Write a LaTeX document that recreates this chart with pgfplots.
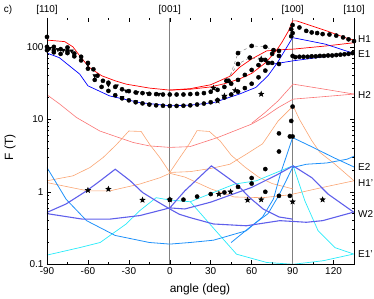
\documentclass[border=0pt]{standalone}
\usepackage{fontspec}
\setmainfont{Liberation Sans}
\usepackage{pgfplots}
\pgfplotsset{compat=1.18}
\usetikzlibrary{plotmarks}
\definecolor{cH1}{RGB}{255,0,0}
\definecolor{cE1}{RGB}{0,0,255}
\definecolor{cH2}{RGB}{250,115,115}
\definecolor{cOr}{RGB}{250,165,115}
\definecolor{cW2}{RGB}{95,95,235}
\definecolor{cE2}{RGB}{30,145,250}
\definecolor{cEp}{RGB}{40,235,250}
\pgfdeclareplotmark{fstar}{%
 \pgfpathmoveto{\pgfpointpolar{90}{\pgfplotmarksize}}%
 \pgfpathlineto{\pgfpointpolar{126}{0.42\pgfplotmarksize}}%
 \pgfpathlineto{\pgfpointpolar{162}{\pgfplotmarksize}}%
 \pgfpathlineto{\pgfpointpolar{198}{0.42\pgfplotmarksize}}%
 \pgfpathlineto{\pgfpointpolar{234}{\pgfplotmarksize}}%
 \pgfpathlineto{\pgfpointpolar{270}{0.42\pgfplotmarksize}}%
 \pgfpathlineto{\pgfpointpolar{306}{\pgfplotmarksize}}%
 \pgfpathlineto{\pgfpointpolar{342}{0.42\pgfplotmarksize}}%
 \pgfpathlineto{\pgfpointpolar{18}{\pgfplotmarksize}}%
 \pgfpathlineto{\pgfpointpolar{54}{0.42\pgfplotmarksize}}%
 \pgfpathclose\pgfusepathqfillstroke}
\begin{document}
\begin{tikzpicture}[x=1bp,y=1bp]
\path[use as bounding box] (-47,-34.7) rectangle (327,264.3);
\begin{axis}[
 scale only axis, width=307bp, height=246.3bp,
 at={(0,0)}, anchor=south west,
 xmin=-90, xmax=135, ymode=log, ymin=0.1, ymax=250,
 clip mode=individual,
 xtick={-90,-60,...,120}, xticklabels={-90,-60,-30,0,30,60,90,120},
 minor xtick={-75,-45,...,135},
 ytick={0.1,1,10,100}, yticklabels={0.1,1,10,100},
 tick align=inside,
 axis line style={draw=none},
 tick style={black, line width=0.5pt},
 major tick length=4bp, minor tick length=2.5bp,
 ticklabel style={font=\fontsize{10}{12}\selectfont},
 /pgf/number format/assume math mode=true,
]
\draw[gray, line width=0.7pt] (axis cs:0,0.1) -- (axis cs:0,250);
\draw[gray, line width=0.7pt] (axis cs:90,0.1) -- (axis cs:90,250);
% H1 red
\addplot[cH1, line width=0.7pt] coordinates {(-90,124)(-77,118)(-71,100)(-65,71)(-59,52)(-50,40)(-40,34)(-32,30.6)(-15,27)(0,25.3)(15,26)(30,28)(40,31)(51,36)(60,43)(70,60)(78,88)(82,114)(87,166)(90,228)(93,228)(115,166)(129.5,132)(135,124)};
\addplot[cH1, line width=0.7pt] coordinates {(0,25.3)(15,26.5)(30,30)(45,40)(51,52)(60,68)(71,88)(80,91)(90.4,93)(114.8,103)(135,114)};
% E1 blue
\addplot[cE1, line width=0.7pt] coordinates {(-90,82)(-81,71)(-66,42)(-60,29)(-44,21)(-22,17)(0,15.4)(15,15.7)(32,17)(51,22.3)(63,27.5)(72,40)(79,61)(90,134)(114,109)(135,81)};
\addplot[cE1, line width=0.7pt] coordinates {(76,58)(90,64)(135,83)};
% H2
\addplot[cH2, line width=0.6pt] coordinates {(-90,21.8)(-80.6,16.2)(-68.4,10.6)(-51.3,6.9)(-27,4.8)(-15,4.3)(0,4.1)(14.7,4.2)(35,5.6)(60,8.6)(70,11)(79.4,14.5)(90.4,19)(112,20.5)(135,22.3)};
\addplot[cH2, line width=0.6pt] coordinates {(60,8.8)(70,12.5)(79.4,18)(90.4,30.6)(113.6,26)(135,22.3)};
% orange
\addplot[cOr, line width=0.6pt] coordinates {(-90,1.42)(-71,1.66)(-58.6,2.16)(-48.9,2.97)(-39,4.5)(-30,6.9)(-21,6.8)(-14.7,4.5)(-7.3,2.97)(0,1.85)};
\addplot[cOr, line width=0.6pt] coordinates {(0,1.85)(7,2.9)(14,4.5)(20,7.0)(29,6.8)(37,5.0)(45,3.2)(55,2.2)(65,1.6)(75,1.3)(90,1.1)};
\addplot[cOr, line width=0.6pt] coordinates {(0,1.85)(15,1.9)(30,2.1)(44,2.4)(56,3.3)(68,4.6)(79.4,9.5)(90.4,15.3)(95,10)(104,5.1)(110,3.5)(120,2.5)(135,1.42)};
\addplot[cOr, line width=0.6pt] coordinates {(-90,1.34)(-60,1.03)(-44,1.03)(-22,1.28)(-7,1.57)(0,1.8)(11,1.6)(30,1.1)(47,0.85)(68,0.83)(88,0.91)(112,1.15)(135,1.42)};
% E1'
\addplot[cEp, line width=0.7pt] coordinates {(-90,0.134)(-66,0.17)(-51,0.2)(-32,0.36)(-22,0.55)(-10,0.83)(0,0.77)(15,0.73)};
\addplot[cEp, line width=0.7pt] coordinates {(15,0.73)(47.6,1.28)(63.5,1.42)(90.4,2.3)(99,0.75)(108.7,0.29)(121,0.17)(135,0.138)};
\addplot[cEp, line width=0.7pt] coordinates {(15,0.73)(31.7,0.32)(48.9,0.138)(71,0.106)(90.4,0.1)(112.4,0.112)(134.3,0.138)};
% E2
\addplot[cE2, line width=0.8pt] coordinates {(-90,2.16)(-76,0.79)(-61,0.4)(-40,0.25)(-15,0.2)(0,0.19)(15,0.2)(32,0.215)(56,0.29)(68,0.45)(76,0.8)(81,1.75)(90,5.6)(105,4.1)(120,2.97)(135,2.2)};
\addplot[cE2, line width=0.8pt] coordinates {(45,0.2)(60,0.34)(72,0.5)(80,0.9)(90,2.16)(100,2.4)(115,2.5)(130,2.82)(135,3.1)};
% W2
\addplot[cW2, line width=1.1pt] coordinates {(-90,0.52)(-76,0.68)(-61,1.03)(-51,1.42)(-40,2.05)(-29,1.42)(-20,0.98)(-10,0.75)(0,0.58)(7,0.49)(15,0.44)(32,0.36)(56,0.34)(80.6,0.4)(90.4,0.39)(100,0.38)(112,0.4)(134,0.52)};
\addplot[cW2, line width=1.1pt] coordinates {(-90,0.5)(-64,0.42)(-44,0.42)(-22,0.47)(0,0.6)};
\addplot[cW2, line width=1.1pt] coordinates {(0,0.6)(11,1.03)(30.5,2.28)(39,1.75)(48.9,1.28)(58.6,0.83)(68.4,0.58)(80,0.45)(90,0.42)};
\addplot[cW2, line width=1.1pt] coordinates {(0,0.6)(11,0.58)(30,0.72)(60,1.15)(79.4,1.75)(90.4,2.28)(104,1.57)(116,0.93)(135,0.52)};
% dashed grey
\addplot[gray, dashed, line width=0.5pt, mark=*, mark size=2.1pt, mark options={solid, black}] coordinates {(43,34)(50,82)(60,103)(70,100)(76,90)};
\addplot[gray, dashed, line width=0.5pt, mark=*, mark size=2.1pt, mark options={solid, black}] coordinates {(41.5,34)(50,58)(58.6,71)(67,66)(72,60)};
% circles
\addplot[only marks, mark=*, mark size=2.1pt, black] coordinates {
(-90,137)(-90,100)(-85,100)(-85,90)(-80,93)(-75,98)(-75,88)(-70,81)(-65,73)(-60,60)(-56,49)(-53,40)(-49,34)(-45,32)(-40,28)(-35,26)(-30,24.5)(-25,23.5)(-20,23)(-15,22.5)(-10,22.3)(-5,22)(0,22)(5,22)(10,22)(15,22.3)(20,22.5)(25,23)(30,24)(35,25.5)(40,28)(45,31)(50,35)(55,41)(60,48)(65,56)(70,66)(75,80)
(-90,90)(-85,84)(-80,80)(-75,82)(-70,74)(-65,65)(-60,50)(-55,35)(-50,28)(-45,24.7)(-40,21.5)(-35,19.5)(-30,18.3)(-25,17.2)(-20,16.6)(-15,16)(-10,15.6)(-5,15.4)(0,15.3)(5,15.3)(10,15.4)(15,15.6)(20,16)(25,16.5)(30,17.2)(35,18.5)(40,20)(45,22)(50,24)(55,27)(60,31)(65,38)(70,47)(75,60)(80,75)
(80,88)(80,58)(90,200)(89,175)(90,155)(89,140)
(95,185)(100,166)(104,158)(108,155)(112,150)(117,148)(122,143)(127,135)(131,127)(135,120)
(90,75)(92,72)(95,73)(98,73)(101,73)(104,74)(107,74)(110,75)(113,75)(116,76)(119,76)(122,77)(125,78)(128,79)(131,80)(134,82)
(0,0.78)(10,0.78)(20,0.86)(30,0.93)(40,0.98)(50,1.17)(60,1.3)(60,1.55)(70,1.0)(70,2.06)(80,0.88)(88,0.88)(80,3.6)(80,6.4)(88,5.8)(90,5.8)(89,9.5)(90,15)
};
% triangles
\addplot[only marks, mark=triangle*, mark size=2.2pt, mark options={rotate=180}, black] coordinates {
(-88,95)(-82,92)(-78,90)(-72,88)(-60,57)(-55,40)(-45,30)(-39,29)(-32,24.7)(-24,23.4)(-16,22.6)(-8,22.2)(-35,20)(-25,17.5)(-15,16)};
% stars
\addplot[only marks, mark=fstar, mark size=2.8pt, black] coordinates {
(-60,1.05)(-45,1.09)(-20,0.77)(0,0.78)(36,0.93)(44.5,1.0)(57,0.77)(67,0.78)(90,0.73)(112,0.78)(67,22.3)(32,27)(35,18)(40,21)(48,25)(67,68)};
% labels
\node[anchor=south, font=\fontsize{10}{12}\selectfont] at (axis cs:-90,250) {[110]};
\node[anchor=south, font=\fontsize{10}{12}\selectfont] at (axis cs:0,250) {[001]};
\node[anchor=south, font=\fontsize{10}{12}\selectfont] at (axis cs:90,250) {[100]};
\node[anchor=south, font=\fontsize{10}{12}\selectfont] at (axis cs:135,250) {[110]};
\node[anchor=west, font=\fontsize{10}{12}\selectfont, inner sep=0pt] at ([xshift=4bp]axis cs:135,129) {H1};
\node[anchor=west, font=\fontsize{10}{12}\selectfont, inner sep=0pt] at ([xshift=4bp]axis cs:135,80) {E1};
\node[anchor=west, font=\fontsize{10}{12}\selectfont, inner sep=0pt] at ([xshift=4bp]axis cs:135,21.8) {H2};
\node[anchor=west, font=\fontsize{10}{12}\selectfont, inner sep=0pt] at ([xshift=4bp]axis cs:135,2.2) {E2};
\node[anchor=west, font=\fontsize{10}{12}\selectfont, inner sep=0pt] at ([xshift=4bp]axis cs:135,1.33) {H1'};
\node[anchor=west, font=\fontsize{10}{12}\selectfont, inner sep=0pt] at ([xshift=4bp]axis cs:135,0.5) {W2};
\node[anchor=west, font=\fontsize{10}{12}\selectfont, inner sep=0pt] at ([xshift=4bp]axis cs:135,0.14) {E1'};
\end{axis}
\draw[black, line width=0.5pt] (0,246.3) -- (0,0) -- (307,0) -- (307,246.3);
\node[anchor=center, font=\fontsize{10}{12}\selectfont] at (-39,254) {c)};
\node[rotate=90, font=\fontsize{12}{14}\selectfont] at (-37,117) {F (T)};
\node[font=\fontsize{12}{14}\selectfont] at (153,-25) {angle (deg)};
\end{tikzpicture}
\end{document}
